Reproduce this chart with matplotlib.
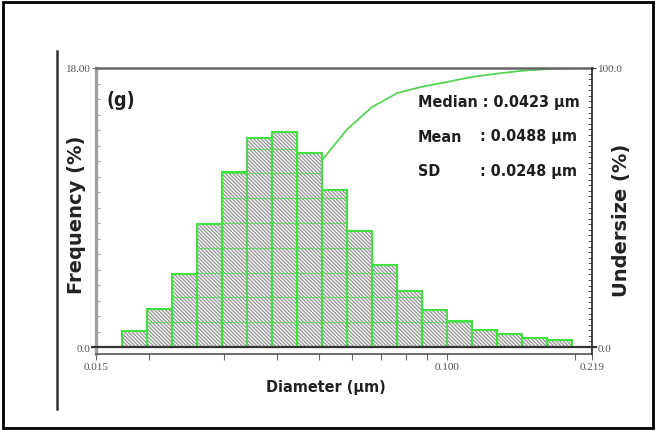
import numpy as np
import matplotlib
matplotlib.use('Agg')
import matplotlib.pyplot as plt
from matplotlib.lines import Line2D
from matplotlib.patches import Rectangle

# bin edges (um) and frequency (%)
edges = [0.01727, 0.01977, 0.02263, 0.02590, 0.02965, 0.03394, 0.03886,
         0.04448, 0.05091, 0.05828, 0.06671, 0.07637, 0.08742, 0.10007,
         0.11455, 0.13113, 0.15010, 0.17182, 0.19669]
freq = [1.06, 2.47, 4.74, 7.93, 11.3, 13.5, 13.9, 12.5, 10.1, 7.5,
        5.3, 3.6, 2.4, 1.7, 1.1, 0.85, 0.6, 0.45]
# cumulative undersize (%) at the right edge of each bin
undersize = [1.1, 3.5, 8.3, 16.2, 27.5, 41.0, 55.0, 67.0, 78.0, 86.0,
             91.0, 93.3, 95.0, 96.8, 98.0, 99.0, 99.6, 100.0]

xtick_vals = [0.015, 0.100, 0.219]
xtick_labels = ['0.015', '0.100', '0.219']
minor_x = [0.02, 0.03, 0.04, 0.05, 0.06, 0.07, 0.08, 0.09, 0.2]

green = '#3fe23f'
serif = ['Liberation Serif', 'DejaVu Serif']
plt.rcParams['hatch.linewidth'] = 0.7

fig = plt.figure(figsize=(6.56, 4.31), dpi=100)
ax = fig.add_axes([96/656, 1-355/431, 496/656, 286/431])
ax.set_xscale('log')
ax.set_xlim(0.015, 0.219)
ax.set_ylim(-0.45, 18)

left = np.array(edges[:-1])
width = np.diff(edges)

# undersize curve, drawn under the bars (scaled to the frequency axis)
ax.plot(edges[1:], np.array(undersize) * 0.18, color='#55d455', lw=1.3, zorder=1)

ax.bar(left, freq, width=width, align='edge', color='#eeeeee',
       hatch='\\' * 9, edgecolor='#8a8a8a', lw=0, zorder=2)
for l, w, h in zip(left, width, freq):
    lv = np.arange(1.6, h, 1.6)
    ax.hlines(lv, l, l + w, color=green, lw=0.8, alpha=0.7, zorder=3)
ax.bar(left, freq, width=width, align='edge', fill=False,
       edgecolor=green, lw=1.5, zorder=4)

ax.axhline(0, xmin=-0.008, xmax=1.008, color='#333333', lw=1.6, clip_on=False, zorder=5)

ax.spines['top'].set_color('#666666')
ax.spines['top'].set_linewidth(1.8)
ax.spines['left'].set_color('#a0a0a0')
ax.spines['left'].set_linewidth(2.4)
ax.spines['bottom'].set_color('#555555')
ax.spines['bottom'].set_linewidth(1.2)
ax.spines['right'].set_visible(False)

ax.set_xticks(xtick_vals)
ax.set_xticklabels(xtick_labels)
ax.set_xticks(minor_x, minor=True)
ax.xaxis.set_minor_formatter(matplotlib.ticker.NullFormatter())
ax.tick_params(axis='x', which='both', direction='out', length=4, width=0.8,
               color='#666666', pad=2, labelsize=8, labelcolor='#555555')
for t in ax.get_xticklabels():
    t.set_family(serif)

ax.set_yticks([0, 18])
ax.set_yticklabels(['0.0', '18.00'])
ax.set_yticks(np.arange(1, 18, 1), minor=True)
ax.tick_params(axis='y', which='major', direction='out', length=3, pad=1,
               labelsize=8, labelcolor='#555555', color='#666666')
ax.tick_params(axis='y', which='minor', direction='in', length=3, width=0.7,
               color='#999999')
for t in ax.get_yticklabels():
    t.set_family(serif)

ax2 = ax.twinx()
ax2.set_ylim(-2.5, 100)
ax2.set_yticks([0, 100])
ax2.set_yticklabels(['0.0', '100.0'])
ax2.set_yticks(np.arange(2, 100, 2), minor=True)
for s in ['top', 'bottom', 'left']:
    ax2.spines[s].set_visible(False)
ax2.spines['right'].set_color('#333333')
ax2.spines['right'].set_linewidth(1.3)
ax2.tick_params(axis='y', which='major', direction='out', length=3, pad=1,
                labelsize=8, labelcolor='#555555', color='#333333')
ax2.tick_params(axis='y', which='minor', direction='in', length=3, width=0.7,
                color='#555555')
for t in ax2.get_yticklabels():
    t.set_family(serif)

# axis titles
fig.text(77/656, 1-215/431, 'Frequency (%)', rotation=90, ha='center', va='center',
         fontsize=14, fontweight='bold', color='#222222', family='DejaVu Sans')
fig.text(621/656, 1-220/431, 'Undersize (%)', rotation=90, ha='center', va='center',
         fontsize=14, fontweight='bold', color='#222222', family='DejaVu Sans')
fig.text(326/656, 1-388/431, 'Diameter (\u00b5m)', ha='center', va='center',
         fontsize=11.5, fontweight='bold', color='#222222',
         family='DejaVu Sans', fontstretch='condensed')

# annotations
tk = dict(fontsize=11.5, fontweight='bold', color='#1e1e1e', family='DejaVu Sans',
          fontstretch='condensed', va='center', ha='left')
fig.text(106/656, 1-101/431, '(g)', **dict(tk, fontsize=14))
fig.text(418/656, 1-103/431, 'Median : 0.0423 \u00b5m', **tk)
fig.text(418/656, 1-137/431, 'Mean', **tk)
fig.text(480/656, 1-137/431, ': 0.0488 \u00b5m', **tk)
fig.text(418/656, 1-172/431, 'SD', **tk)
fig.text(480/656, 1-172/431, ': 0.0248 \u00b5m', **tk)

# page decorations
fig.add_artist(Rectangle((3/656, 2/431), 650/656, 426/431, fill=False,
                         edgecolor='black', lw=2, transform=fig.transFigure))
fig.add_artist(Line2D([57/656, 57/656], [1-52/431, 1-410/431], color='#333333',
                      lw=1.8, transform=fig.transFigure))

fig.savefig('out.png', dpi=100)
